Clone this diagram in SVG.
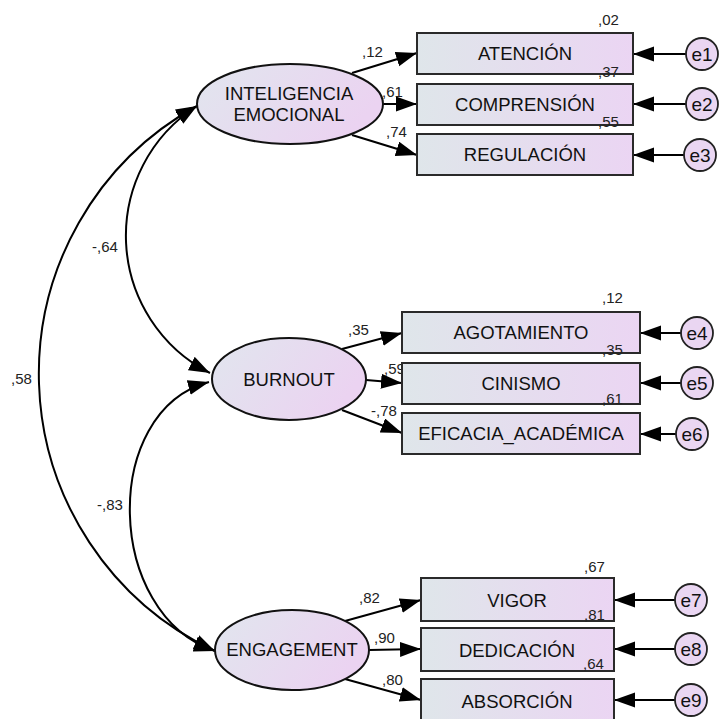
<svg xmlns="http://www.w3.org/2000/svg" width="722" height="719" viewBox="0 0 722 719">
<defs>
<linearGradient id="g" x1="0" y1="0" x2="1" y2="0">
<stop offset="0" stop-color="#dfe6ea"/>
<stop offset="1" stop-color="#ebd5f3"/>
</linearGradient>
<linearGradient id="ge" x1="0" y1="0" x2="1" y2="0.4">
<stop offset="0" stop-color="#e1e6ee"/>
<stop offset="1" stop-color="#ebd3f1"/>
</linearGradient>
<marker id="ah" markerUnits="userSpaceOnUse" markerWidth="23" markerHeight="16" refX="21" refY="7.5" orient="auto-start-reverse" viewBox="0 0 23 16">
<path d="M0,0 L21,7.5 L0,15 z" fill="#000"/>
</marker>
<style>
.box{fill:url(#g);stroke:#2a2a2a;stroke-width:2}
.lat{fill:url(#ge);stroke:#111;stroke-width:2}
.err{fill:#ead6f2;stroke:#222;stroke-width:1.8}
.t{font-family:"Liberation Sans",Arial,sans-serif;font-size:18.5px;fill:#111;text-anchor:middle}
.te{font-family:"Liberation Sans",Arial,sans-serif;font-size:19px;fill:#111;text-anchor:middle}
.n{font-family:"Liberation Sans",Arial,sans-serif;font-size:15px;fill:#222}
.c{fill:none;stroke:#000;stroke-width:2;marker-end:url(#ah)}
.cc{fill:none;stroke:#000;stroke-width:2;marker-end:url(#ah);marker-start:url(#ah)}
</style>
</defs>

<g id="connectors">
<path class="c" d="M352,73 L417,53"/>
<path class="c" d="M383,104 L417,104"/>
<path class="c" d="M352,135 L417,155"/>
<path class="c" d="M342,349 L402,333"/>
<path class="c" d="M366,380 L402,383"/>
<path class="c" d="M342,410 L402,433"/>
<path class="c" d="M345,621 L421,600"/>
<path class="c" d="M369,650 L421,649"/>
<path class="c" d="M345,679 L421,700"/>
<path class="c" d="M686,54 L633,54"/>
<path class="c" d="M686,104 L633,104"/>
<path class="c" d="M684,155 L633,155"/>
<path class="c" d="M681,333 L640,333"/>
<path class="c" d="M681,383 L640,383"/>
<path class="c" d="M676,434 L640,434"/>
<path class="c" d="M675,600 L614,600"/>
<path class="c" d="M675,649 L614,649"/>
<path class="c" d="M675,700 L614,700"/>
<path class="cc" d="M197,106 A154,154 0 0 0 210,373"/>
<path class="cc" d="M209,382 C100,411 105,615 215,651"/>
<path class="cc" d="M197,106 A306,306 0 0 0 215,651"/>
<text class="n" x="92" y="252">-,64</text>
<text class="n" x="97" y="510">-,83</text>
<text class="n" x="11" y="384">,58</text>
<text class="n" x="362" y="57">,12</text>
<text class="n" x="382" y="97">,61</text>
<text class="n" x="386" y="137">,74</text>
<text class="n" x="348" y="335">,35</text>
<text class="n" x="384" y="374">,59</text>
<text class="n" x="371" y="416">-,78</text>
<text class="n" x="359" y="603">,82</text>
<text class="n" x="374" y="643">,90</text>
<text class="n" x="382" y="685">,80</text>
</g>

<g id="inteligencia">
<ellipse class="lat" cx="290" cy="104" rx="93" ry="40"/>
<text class="t" x="289" y="99.5">INTELIGENCIA</text>
<text class="t" x="289" y="121">EMOCIONAL</text>
</g>
<g id="burnout">
<ellipse class="lat" cx="289" cy="379" rx="77" ry="41"/>
<text class="t" x="289" y="386">BURNOUT</text>
</g>
<g id="engagement">
<ellipse class="lat" cx="292" cy="650" rx="77" ry="40"/>
<text class="t" x="292" y="656">ENGAGEMENT</text>
</g>

<g id="atencion"><rect class="box" x="417" y="33" width="216" height="41"/><text class="t" x="525" y="60">ATENCIÓN</text><text class="n" x="598" y="25">,02</text></g>
<g id="comprension"><rect class="box" x="417" y="84" width="216" height="41"/><text class="t" x="525" y="111">COMPRENSIÓN</text><text class="n" x="598" y="77">,37</text></g>
<g id="regulacion"><rect class="box" x="417" y="134" width="216" height="41"/><text class="t" x="525" y="161">REGULACIÓN</text><text class="n" x="598" y="127">,55</text></g>

<g id="agotamiento"><rect class="box" x="402" y="312" width="238" height="41"/><text class="t" x="521" y="339">AGOTAMIENTO</text><text class="n" x="602" y="303">,12</text></g>
<g id="cinismo"><rect class="box" x="402" y="363" width="238" height="41"/><text class="t" x="521" y="390">CINISMO</text><text class="n" x="602" y="355">,35</text></g>
<g id="eficacia"><rect class="box" x="402" y="413" width="238" height="41"/><text class="t" x="521" y="440">EFICACIA_ACADÉMICA</text><text class="n" x="602" y="404">,61</text></g>

<g id="vigor"><rect class="box" x="421" y="578" width="193" height="43"/><text class="t" x="517" y="607">VIGOR</text><text class="n" x="584" y="572">,67</text></g>
<g id="dedicacion"><rect class="box" x="421" y="628" width="193" height="43"/><text class="t" x="517" y="657">DEDICACIÓN</text><text class="n" x="584" y="620">,81</text></g>
<g id="absorcion"><rect class="box" x="421" y="679" width="193" height="43"/><text class="t" x="517" y="708">ABSORCIÓN</text><text class="n" x="583" y="669">,64</text></g>

<g id="e1"><circle class="err" cx="702" cy="54" r="16"/><text class="te" x="702" y="61">e1</text></g>
<g id="e2"><circle class="err" cx="702" cy="104" r="16"/><text class="te" x="702" y="111">e2</text></g>
<g id="e3"><circle class="err" cx="700" cy="155" r="16"/><text class="te" x="700" y="162">e3</text></g>
<g id="e4"><circle class="err" cx="697" cy="333" r="16"/><text class="te" x="697" y="340">e4</text></g>
<g id="e5"><circle class="err" cx="697" cy="383" r="16"/><text class="te" x="697" y="390">e5</text></g>
<g id="e6"><circle class="err" cx="692" cy="434" r="16"/><text class="te" x="692" y="441">e6</text></g>
<g id="e7"><circle class="err" cx="691" cy="600" r="16"/><text class="te" x="691" y="607">e7</text></g>
<g id="e8"><circle class="err" cx="691" cy="649" r="16"/><text class="te" x="691" y="656">e8</text></g>
<g id="e9"><circle class="err" cx="691" cy="700" r="16"/><text class="te" x="691" y="707">e9</text></g>
</svg>
